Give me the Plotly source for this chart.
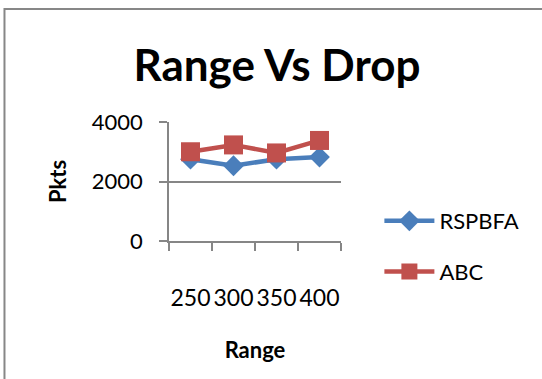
import plotly.graph_objects as go

ranges = ["250", "300", "350", "400"]
rspbfa = [2750, 2530, 2750, 2820]
abc = [3000, 3230, 2960, 3380]

W, H = 542, 379
L, R, T, B = 169, 341.5, 122, 241
FONT = "Lato"

fig = go.Figure()
fig.add_trace(go.Scatter(
    x=ranges, y=rspbfa, name="RSPBFA", mode="lines+markers",
    line=dict(color="#4A7EBB", width=4.5),
    marker=dict(symbol="diamond", size=16, color="#4A7EBB"),
    legendgroup="a",
))
fig.add_trace(go.Scatter(
    x=ranges, y=abc, name="ABC", mode="lines+markers",
    line=dict(color="#C0504D", width=4.5),
    marker=dict(symbol="square", size=19, color="#C0504D"),
    legendgroup="b",
))

pw = R - L
ph = B - T
fig.update_layout(
    width=W, height=H, autosize=False,
    margin=dict(l=L, r=W - R, t=T, b=H - B, pad=0),
    paper_bgcolor="white", plot_bgcolor="white",
    font=dict(family=FONT, color="black", size=22),
    title=dict(text="<b>Range Vs Drop</b>", x=277 / W, xanchor="center",
               y=1 - 66 / H, yanchor="middle", font=dict(size=44, family=FONT)),
    showlegend=True,
    legend=dict(x=(380 - L) / pw, xanchor="left", y=(B - 200) / ph, yanchor="top",
                traceorder="grouped", tracegroupgap=19, font=dict(size=22),
                bgcolor="rgba(0,0,0,0)", itemwidth=50),
    xaxis=dict(
        type="category", tickson="boundaries", showgrid=False,
        showline=True, linecolor="#868686", linewidth=1.5,
        ticks="outside", ticklen=8, tickcolor="#868686", tickwidth=1.5,
        tickangle=0, ticklabelstandoff=36,
        tickfont=dict(size=23),
        title=dict(text="<b>Range</b>", standoff=32, font=dict(size=22)),
        range=[-0.5, 3.5],
    ),
    yaxis=dict(
        range=[0, 4000], tickvals=[0, 2000, 4000],
        showgrid=True, gridcolor="#868686", gridwidth=1.5,
        showline=True, linecolor="#868686", linewidth=1.5,
        ticks="outside", ticklen=8, tickcolor="#868686", tickwidth=1.5,
        ticklabelstandoff=12, zeroline=False,
        tickfont=dict(size=22),
        title=dict(text="<b>Pkts</b>", standoff=19, font=dict(size=22)),
    ),
    shapes=[dict(type="rect", xref="paper", yref="paper",
                 x0=(4 - L) / pw, x1=(W + 10 - L) / pw,
                 y0=(B - (H + 10)) / ph, y1=(B - 9) / ph,
                 line=dict(color="#878787", width=2), fillcolor="rgba(0,0,0,0)",
                 layer="below")],
)

fig.write_html("out.html", config={"displayModeBar": False},
               post_script="document.body.style.margin='0';document.body.style.padding='0';")
